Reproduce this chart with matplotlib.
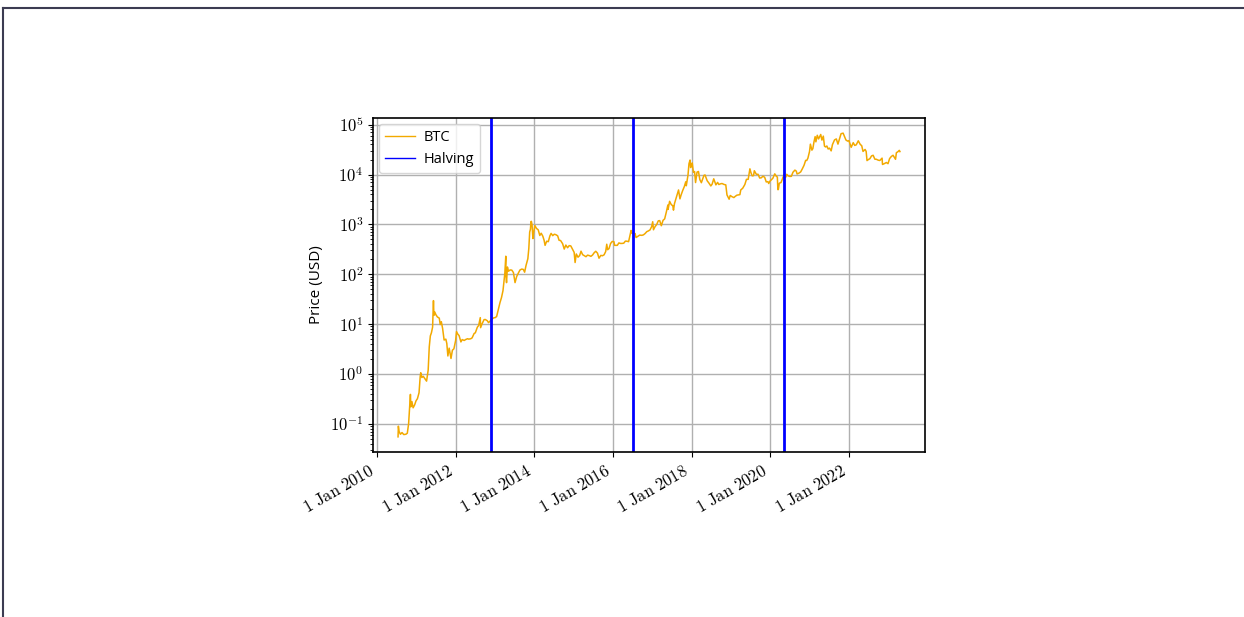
import matplotlib
matplotlib.use("Agg")
import matplotlib.pyplot as plt
import matplotlib.dates as mdates
from matplotlib.lines import Line2D
import numpy as np
import pandas as pd

plt.rcParams["mathtext.fontset"] = "cm"

# -- donnees ------------------------------------------------------------------
btc_2010 = [("2010-07-14", 0.055), ("2010-07-17", 0.09), ("2010-07-24", 0.07), ("2010-08-05", 0.062),
            ("2010-08-20", 0.067), ("2010-09-05", 0.061), ("2010-09-25", 0.062), ("2010-10-08", 0.065),
            ("2010-10-20", 0.10), ("2010-10-28", 0.19), ("2010-11-06", 0.39), ("2010-11-10", 0.22),
            ("2010-11-20", 0.28), ("2010-12-01", 0.21), ("2010-12-15", 0.24), ("2010-12-28", 0.29)]
btc_2011 = [("2011-01-10", 0.32), ("2011-01-25", 0.42), ("2011-02-05", 0.9), ("2011-02-10", 1.06),
            ("2011-02-20", 0.85), ("2011-03-05", 0.90), ("2011-03-25", 0.78), ("2011-04-05", 0.72),
            ("2011-04-20", 1.2), ("2011-04-30", 3.5), ("2011-05-10", 5.8), ("2011-05-20", 6.7),
            ("2011-05-31", 8.7), ("2011-06-05", 18.5), ("2011-06-08", 29.6), ("2011-06-12", 15.0),
            ("2011-06-20", 17.5), ("2011-07-01", 15.4), ("2011-07-15", 13.9), ("2011-08-01", 13.2),
            ("2011-08-10", 9.8), ("2011-08-20", 11.2), ("2011-09-01", 8.2), ("2011-09-15", 4.8),
            ("2011-10-01", 5.0), ("2011-10-10", 4.1), ("2011-10-20", 2.3), ("2011-11-01", 3.3),
            ("2011-11-18", 2.05), ("2011-12-01", 3.0), ("2011-12-15", 3.2), ("2011-12-31", 4.7)]
btc_2012 = [("2012-01-08", 7.1), ("2012-01-20", 6.3), ("2012-02-01", 5.9), ("2012-02-18", 4.4),
            ("2012-03-01", 4.9), ("2012-03-20", 4.7), ("2012-04-01", 4.9), ("2012-04-20", 5.1),
            ("2012-05-01", 5.0), ("2012-05-20", 5.1), ("2012-06-01", 5.3), ("2012-06-20", 6.5),
            ("2012-07-01", 6.7), ("2012-07-20", 8.7), ("2012-08-01", 9.4), ("2012-08-16", 13.5),
            ("2012-08-19", 8.5), ("2012-09-01", 10.1), ("2012-09-20", 12.3), ("2012-10-01", 12.4),
            ("2012-10-20", 11.7), ("2012-11-01", 10.7), ("2012-11-20", 11.8), ("2012-12-01", 12.6),
            ("2012-12-20", 13.4)]
btc_2013 = [("2013-01-01", 13.5), ("2013-01-15", 14.2), ("2013-02-01", 20.4), ("2013-02-15", 27),
            ("2013-03-01", 34), ("2013-03-15", 47), ("2013-04-01", 104), ("2013-04-10", 230),
            ("2013-04-12", 90), ("2013-04-17", 68), ("2013-04-25", 140), ("2013-05-05", 115),
            ("2013-05-20", 122), ("2013-06-05", 121), ("2013-06-20", 108), ("2013-07-05", 68),
            ("2013-07-20", 90), ("2013-08-05", 106), ("2013-08-20", 122), ("2013-09-05", 127),
            ("2013-09-20", 125), ("2013-10-02", 110), ("2013-10-15", 150), ("2013-11-01", 205),
            ("2013-11-10", 330), ("2013-11-18", 700), ("2013-11-25", 800), ("2013-11-30", 1140),
            ("2013-12-04", 1150), ("2013-12-10", 980), ("2013-12-18", 520), ("2013-12-25", 680)]
btc_2014 = [("2014-01-05", 950), ("2014-01-20", 830), ("2014-02-05", 780), ("2014-02-20", 600),
            ("2014-03-05", 665), ("2014-03-20", 580), ("2014-04-01", 480), ("2014-04-10", 380),
            ("2014-04-25", 460), ("2014-05-10", 450), ("2014-05-25", 590), ("2014-06-05", 660),
            ("2014-06-20", 595), ("2014-07-05", 635), ("2014-07-20", 620), ("2014-08-05", 590),
            ("2014-08-18", 480), ("2014-09-01", 475), ("2014-09-20", 410), ("2014-10-05", 320),
            ("2014-10-20", 385), ("2014-11-05", 340), ("2014-11-20", 375), ("2014-12-05", 370),
            ("2014-12-20", 320)]
btc_2015 = [("2015-01-05", 275), ("2015-01-14", 172), ("2015-01-25", 255), ("2015-02-10", 220),
            ("2015-02-25", 237), ("2015-03-10", 290), ("2015-03-25", 247), ("2015-04-10", 236),
            ("2015-04-25", 225), ("2015-05-10", 242), ("2015-05-25", 237), ("2015-06-10", 229),
            ("2015-06-25", 243), ("2015-07-10", 270), ("2015-07-25", 289), ("2015-08-10", 265),
            ("2015-08-24", 210), ("2015-09-10", 239), ("2015-09-25", 235), ("2015-10-10", 245),
            ("2015-10-25", 285), ("2015-11-04", 400), ("2015-11-12", 310), ("2015-11-25", 328),
            ("2015-12-10", 415), ("2015-12-25", 455)]
btc_2016 = [("2016-01-10", 448), ("2016-01-16", 380), ("2016-01-28", 380), ("2016-02-10", 380),
            ("2016-02-25", 425), ("2016-03-10", 415), ("2016-03-25", 415), ("2016-04-10", 420),
            ("2016-04-25", 462), ("2016-05-10", 460), ("2016-05-25", 450), ("2016-06-05", 580),
            ("2016-06-17", 755), ("2016-06-25", 665), ("2016-07-09", 650), ("2016-07-25", 655),
            ("2016-08-02", 545), ("2016-08-20", 580), ("2016-09-05", 610), ("2016-09-25", 603),
            ("2016-10-10", 617), ("2016-10-25", 655), ("2016-11-10", 715), ("2016-11-25", 740),
            ("2016-12-10", 775), ("2016-12-25", 900)]
btc_2017 = [("2017-01-04", 1130), ("2017-01-11", 780), ("2017-01-25", 895), ("2017-02-10", 995),
            ("2017-02-25", 1180), ("2017-03-10", 1190), ("2017-03-25", 940), ("2017-04-10", 1205),
            ("2017-04-25", 1290), ("2017-05-10", 1750), ("2017-05-25", 2450), ("2017-05-27", 2000),
            ("2017-06-10", 2900), ("2017-06-25", 2500), ("2017-07-10", 2350), ("2017-07-16", 1930),
            ("2017-07-25", 2600), ("2017-08-10", 3400), ("2017-08-25", 4350), ("2017-09-01", 4900),
            ("2017-09-14", 3250), ("2017-09-25", 3900), ("2017-10-10", 4800), ("2017-10-25", 5750),
            ("2017-11-07", 7150), ("2017-11-12", 5950), ("2017-11-28", 9800), ("2017-12-07", 16500),
            ("2017-12-17", 19500), ("2017-12-22", 13800), ("2017-12-28", 14500)]
btc_2018 = [("2018-01-06", 17100), ("2018-01-17", 11100), ("2018-01-28", 11500), ("2018-02-06", 6900),
            ("2018-02-20", 11200), ("2018-03-05", 11500), ("2018-03-18", 7900), ("2018-04-01", 6850),
            ("2018-04-25", 9600), ("2018-05-05", 9800), ("2018-05-25", 7500), ("2018-06-10", 6750),
            ("2018-06-28", 5900), ("2018-07-10", 6400), ("2018-07-25", 8200), ("2018-08-14", 6200),
            ("2018-08-30", 6950), ("2018-09-10", 6300), ("2018-09-25", 6500), ("2018-10-10", 6600),
            ("2018-10-30", 6300), ("2018-11-14", 6200), ("2018-11-25", 3900), ("2018-12-15", 3200),
            ("2018-12-25", 3800)]
btc_2019 = [("2019-01-10", 3600), ("2019-01-28", 3450), ("2019-02-10", 3650), ("2019-02-25", 3850),
            ("2019-03-10", 3900), ("2019-03-25", 3950), ("2019-04-02", 4900), ("2019-04-20", 5300),
            ("2019-05-10", 6300), ("2019-05-25", 8000), ("2019-06-10", 8000), ("2019-06-26", 13000),
            ("2019-07-05", 11000), ("2019-07-17", 9400), ("2019-07-30", 9500), ("2019-08-06", 11900),
            ("2019-08-25", 10100), ("2019-09-10", 10100), ("2019-09-25", 8500), ("2019-10-10", 8600),
            ("2019-10-25", 9250), ("2019-11-10", 8800), ("2019-11-25", 7100), ("2019-12-10", 7200),
            ("2019-12-18", 6600), ("2019-12-28", 7300)]
btc_2020 = [("2020-01-10", 7800), ("2020-01-25", 8400), ("2020-02-12", 10300), ("2020-02-25", 9300),
            ("2020-03-07", 8900), ("2020-03-12", 4970), ("2020-03-16", 5000), ("2020-03-25", 6700),
            ("2020-04-10", 6900), ("2020-04-29", 8800), ("2020-05-08", 9900), ("2020-05-11", 8600),
            ("2020-05-25", 8900), ("2020-06-02", 10100), ("2020-06-15", 9400), ("2020-06-30", 9150),
            ("2020-07-15", 9200), ("2020-07-30", 11100), ("2020-08-17", 12250), ("2020-08-30", 11700),
            ("2020-09-06", 10250), ("2020-09-25", 10700), ("2020-10-10", 11300), ("2020-10-25", 13000),
            ("2020-11-10", 15300), ("2020-11-25", 19200), ("2020-12-05", 19100), ("2020-12-16", 21300),
            ("2020-12-31", 29000)]
btc_2021 = [("2021-01-08", 40600), ("2021-01-22", 30800), ("2021-01-31", 33100), ("2021-02-10", 44800),
            ("2021-02-21", 57500), ("2021-02-28", 45200), ("2021-03-13", 61200), ("2021-03-25", 51700),
            ("2021-04-14", 63500), ("2021-04-25", 49000), ("2021-05-08", 58800), ("2021-05-19", 37000),
            ("2021-05-30", 35700), ("2021-06-10", 37300), ("2021-06-22", 32500), ("2021-07-05", 33800),
            ("2021-07-20", 29800), ("2021-08-01", 39800), ("2021-08-20", 49300), ("2021-09-06", 51700),
            ("2021-09-21", 40700), ("2021-10-01", 48200), ("2021-10-20", 65900), ("2021-11-08", 67500),
            ("2021-11-20", 58600), ("2021-12-04", 49300), ("2021-12-20", 46700)]
btc_2022 = [("2022-01-01", 47700), ("2022-01-22", 35100), ("2022-02-10", 43500), ("2022-02-24", 38300),
            ("2022-03-10", 39400), ("2022-03-29", 47400), ("2022-04-15", 40500), ("2022-04-30", 37700),
            ("2022-05-12", 29000), ("2022-05-31", 31800), ("2022-06-10", 29100), ("2022-06-18", 19000),
            ("2022-06-30", 19900), ("2022-07-15", 20800), ("2022-07-30", 23600), ("2022-08-14", 24300),
            ("2022-08-30", 20300), ("2022-09-13", 20200), ("2022-09-30", 19400), ("2022-10-15", 19100),
            ("2022-11-05", 21300), ("2022-11-09", 15900), ("2022-11-25", 16500), ("2022-12-15", 17400),
            ("2022-12-30", 16500)]
btc_2023 = [("2023-01-14", 20900), ("2023-01-31", 23100), ("2023-02-15", 24300), ("2023-03-10", 20200),
            ("2023-03-18", 27400), ("2023-03-31", 28500), ("2023-04-14", 30500), ("2023-04-20", 28800)]

halving_dates = ["2012-11-28", "2016-07-09", "2020-05-11"]

all_rows = (btc_2010 + btc_2011 + btc_2012 + btc_2013 + btc_2014 + btc_2015 + btc_2016
            + btc_2017 + btc_2018 + btc_2019 + btc_2020 + btc_2021 + btc_2022 + btc_2023)
df = pd.DataFrame(all_rows, columns=["date", "price"])
df["date"] = pd.to_datetime(df["date"])

btc_color = "#f2a900"

# -- figure -------------------------------------------------------------------
fig = plt.figure(figsize=(12.44, 6.17), dpi=100)
ax = fig.add_axes([0.2998, 0.2674, 0.4438, 0.5414])

ax.plot(df["date"], df["price"], color=btc_color, linewidth=1.1)
for d in halving_dates:
    ax.axvline(pd.Timestamp(d), color="blue", linewidth=2)

ax.set_yscale("log")
ax.set_ylabel("Price (USD)", family="Open Sans", fontsize=11)
ax.grid(True, which="major", color="#b0b0b0", linewidth=1)
ax.set_axisbelow(True)

ax.xaxis.set_major_locator(mdates.YearLocator(2))
ax.xaxis.set_major_formatter(plt.FuncFormatter(
    lambda x, pos: r"$\mathrm{1\ Jan\ %d}$" % mdates.num2date(x).year))
ax.yaxis.set_major_formatter(plt.FuncFormatter(
    lambda y, pos: r"$10^{%d}$" % int(round(np.log10(y)))))
plt.setp(ax.get_xticklabels(), rotation=30, ha="right", fontsize=12)
plt.setp(ax.get_yticklabels(), fontsize=12)

for s in ax.spines.values():
    s.set_linewidth(1.2)

handles = [Line2D([0], [0], color=btc_color, lw=1),
           Line2D([0], [0], color="blue", lw=1)]
ax.legend(handles, ["BTC", "Halving"], loc="upper left", handlelength=2.1,
          handletextpad=0.6, borderaxespad=0.4,
          prop={"family": "Open Sans", "size": 10.5})

# cadre autour de l'image
fig.add_artist(Line2D([3 / 1244, 1], [1 - 8 / 617, 1 - 8 / 617], color="#3c3c52", lw=1.5))
fig.add_artist(Line2D([3 / 1244, 3 / 1244], [0, 1 - 8 / 617], color="#3c3c52", lw=1.5))

fig.savefig("out.png", dpi=100)
